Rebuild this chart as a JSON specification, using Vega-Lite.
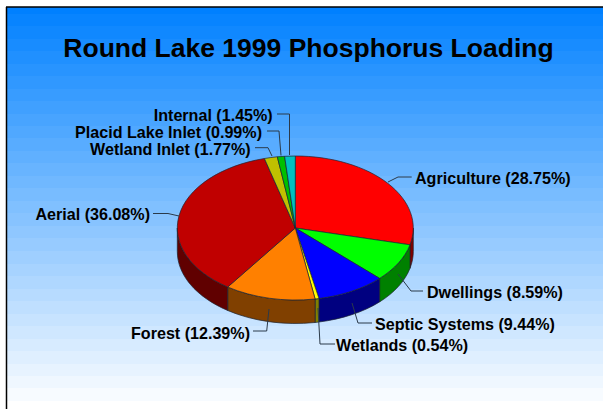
{"$schema":"https://vega.github.io/schema/vega-lite/v6.json","width":603,"height":409,"padding":0,"autosize":"none","background":"white",
"title":{"text":"Round Lake 1999 Phosphorus Loading","frame":"group","anchor":"middle","dx":7,"offset":-83,"baseline":"alphabetic","font":"Liberation Sans","fontWeight":"bold","fontSize":26.5,"color":"#000000"},
"config":{"view":{"stroke":null}},
"datasets":{"slices":[{"slice":"Agriculture","value":28.75},{"slice":"Dwellings","value":8.59},{"slice":"Septic Systems","value":9.44},{"slice":"Wetlands","value":0.54},{"slice":"Forest","value":12.39},{"slice":"Aerial","value":36.08},{"slice":"Wetland Inlet","value":1.77},{"slice":"Placid Lake Inlet","value":0.99},{"slice":"Internal","value":1.45}],
"labels":[{"label":"Agriculture (28.75%)","side":"left","lx":415,"ly":179},{"label":"Dwellings (8.59%)","side":"left","lx":427,"ly":292.7},{"label":"Septic Systems (9.44%)","side":"left","lx":375,"ly":324.5},{"label":"Wetlands (0.54%)","side":"left","lx":336,"ly":346},{"label":"Forest (12.39%)","side":"right","lx":250,"ly":334},{"label":"Aerial (36.08%)","side":"right","lx":150,"ly":215},{"label":"Wetland Inlet (1.77%)","side":"right","lx":250.7,"ly":150},{"label":"Placid Lake Inlet (0.99%)","side":"right","lx":262,"ly":132.7},{"label":"Internal (1.45%)","side":"right","lx":272.7,"ly":115.5}],
"leaders":[{"id":"a","i":0,"px":411.7,"py":177},{"id":"a","i":1,"px":398,"py":177},{"id":"a","i":2,"px":388,"py":182},
{"id":"b","i":0,"px":423,"py":291},{"id":"b","i":1,"px":411,"py":291},{"id":"b","i":2,"px":398,"py":274},
{"id":"c","i":0,"px":372,"py":323},{"id":"c","i":1,"px":358,"py":323},{"id":"c","i":2,"px":352,"py":303},
{"id":"d","i":0,"px":335,"py":344},{"id":"d","i":1,"px":320,"py":344},{"id":"d","i":2,"px":318,"py":308},
{"id":"e","i":0,"px":253,"py":331},{"id":"e","i":1,"px":266.7,"py":331},{"id":"e","i":2,"px":269,"py":309},
{"id":"f","i":0,"px":153,"py":213.5},{"id":"f","i":1,"px":168,"py":213.5},{"id":"f","i":2,"px":179,"py":216},
{"id":"g","i":0,"px":255,"py":147.7},{"id":"g","i":1,"px":268,"py":147.7},{"id":"g","i":2,"px":272,"py":156},
{"id":"h","i":0,"px":267,"py":131},{"id":"h","i":1,"px":279,"py":131},{"id":"h","i":2,"px":281,"py":155.5},
{"id":"k","i":0,"px":277,"py":114},{"id":"k","i":1,"px":289.5,"py":114},{"id":"k","i":2,"px":289.5,"py":155}]},
"layer":[
{"data":{"values":[{}]},"mark":{"type":"rect","fill":{"gradient":"linear","x1":0,"y1":0,"x2":0,"y2":1,"stops":[
{"offset":0,"color":"rgb(0,128,255)"},{"offset":0.01617,"color":"rgb(0,128,255)"},
{"offset":0.01617,"color":"rgb(8,132,255)"},{"offset":0.04726,"color":"rgb(8,132,255)"},
{"offset":0.04726,"color":"rgb(16,136,255)"},{"offset":0.07836,"color":"rgb(16,136,255)"},
{"offset":0.07836,"color":"rgb(24,140,255)"},{"offset":0.10945,"color":"rgb(24,140,255)"},
{"offset":0.10945,"color":"rgb(32,144,255)"},{"offset":0.14055,"color":"rgb(32,144,255)"},
{"offset":0.14055,"color":"rgb(40,148,255)"},{"offset":0.17164,"color":"rgb(40,148,255)"},
{"offset":0.17164,"color":"rgb(48,152,255)"},{"offset":0.20274,"color":"rgb(48,152,255)"},
{"offset":0.20274,"color":"rgb(56,156,255)"},{"offset":0.23383,"color":"rgb(56,156,255)"},
{"offset":0.23383,"color":"rgb(64,160,255)"},{"offset":0.26493,"color":"rgb(64,160,255)"},
{"offset":0.26493,"color":"rgb(72,164,255)"},{"offset":0.29602,"color":"rgb(72,164,255)"},
{"offset":0.29602,"color":"rgb(80,168,255)"},{"offset":0.32711,"color":"rgb(80,168,255)"},
{"offset":0.32711,"color":"rgb(88,172,255)"},{"offset":0.35821,"color":"rgb(88,172,255)"},
{"offset":0.35821,"color":"rgb(96,176,255)"},{"offset":0.3893,"color":"rgb(96,176,255)"},
{"offset":0.3893,"color":"rgb(104,180,255)"},{"offset":0.4204,"color":"rgb(104,180,255)"},
{"offset":0.4204,"color":"rgb(112,184,255)"},{"offset":0.45149,"color":"rgb(112,184,255)"},
{"offset":0.45149,"color":"rgb(120,188,255)"},{"offset":0.48259,"color":"rgb(120,188,255)"},
{"offset":0.48259,"color":"rgb(128,192,255)"},{"offset":0.51368,"color":"rgb(128,192,255)"},
{"offset":0.51368,"color":"rgb(135,195,255)"},{"offset":0.54478,"color":"rgb(135,195,255)"},
{"offset":0.54478,"color":"rgb(143,199,255)"},{"offset":0.57587,"color":"rgb(143,199,255)"},
{"offset":0.57587,"color":"rgb(151,203,255)"},{"offset":0.60697,"color":"rgb(151,203,255)"},
{"offset":0.60697,"color":"rgb(159,207,255)"},{"offset":0.63806,"color":"rgb(159,207,255)"},
{"offset":0.63806,"color":"rgb(167,211,255)"},{"offset":0.66915,"color":"rgb(167,211,255)"},
{"offset":0.66915,"color":"rgb(175,215,255)"},{"offset":0.70025,"color":"rgb(175,215,255)"},
{"offset":0.70025,"color":"rgb(183,219,255)"},{"offset":0.73134,"color":"rgb(183,219,255)"},
{"offset":0.73134,"color":"rgb(191,223,255)"},{"offset":0.76244,"color":"rgb(191,223,255)"},
{"offset":0.76244,"color":"rgb(199,227,255)"},{"offset":0.79353,"color":"rgb(199,227,255)"},
{"offset":0.79353,"color":"rgb(207,231,255)"},{"offset":0.82463,"color":"rgb(207,231,255)"},
{"offset":0.82463,"color":"rgb(215,235,255)"},{"offset":0.85572,"color":"rgb(215,235,255)"},
{"offset":0.85572,"color":"rgb(223,239,255)"},{"offset":0.88682,"color":"rgb(223,239,255)"},
{"offset":0.88682,"color":"rgb(231,243,255)"},{"offset":0.91791,"color":"rgb(231,243,255)"},
{"offset":0.91791,"color":"rgb(239,247,255)"},{"offset":0.949,"color":"rgb(239,247,255)"},
{"offset":0.949,"color":"rgb(247,251,255)"},{"offset":0.9801,"color":"rgb(247,251,255)"},
{"offset":0.9801,"color":"rgb(255,255,255)"},{"offset":1,"color":"rgb(255,255,255)"}]}},
"encoding":{"x":{"datum":6.5,"type":"quantitative","axis":null,"scale":{"domain":[0,603],"nice":false,"zero":false}},"x2":{"datum":603},"y":{"datum":7,"type":"quantitative","axis":null,"scale":{"domain":[409,0],"nice":false,"zero":false}},"y2":{"datum":409}}},
{"data":{"values":[{}]},"mark":{"type":"rule","color":"#000000","strokeWidth":1.5},"encoding":{"x":{"datum":6.5,"type":"quantitative","axis":null},"y":{"datum":7,"type":"quantitative","axis":null},"y2":{"datum":409}}},
{"data":{"values":[{}]},"mark":{"type":"rule","color":"#000000","strokeWidth":1.5},"encoding":{"x":{"datum":6,"type":"quantitative","axis":null},"x2":{"datum":603},"y":{"datum":7,"type":"quantitative","axis":null}}},
{"data":{"name":"slices"},"transform":[{"filter":"indexof(['Agriculture','Dwellings','Septic Systems','Wetlands','Forest','Aerial'],datum.slice)>=0"}],"mark":{"type":"point","filled":true,"size":4,"opacity":1,"stroke":"#1c2430","strokeWidth":0.7},
"encoding":{"x":{"datum":295.3,"type":"quantitative","axis":null},"y":{"datum":228,"type":"quantitative","axis":null},
"shape":{"field":"slice","type":"nominal","legend":null,"scale":{"domain":["Agriculture","Dwellings","Septic Systems","Wetlands","Forest","Aerial"],"range":["M118,0A118,72 0 0 1 114.7,16.8L114.7,40.3A118,72 0 0 0 118,23.5Z","M114.7,16.8A118,72 0 0 1 84.3,50.4L84.3,73.9A118,72 0 0 0 114.7,40.3Z","M84.3,50.4A118,72 0 0 1 23.7,70.5L23.7,94A118,72 0 0 0 84.3,73.9Z","M23.7,70.5A118,72 0 0 1 19.8,71L19.8,94.5A118,72 0 0 0 23.7,94Z","M19.8,71A118,72 0 0 1 -67.6,59L-67.6,82.5A118,72 0 0 0 19.8,94.5Z","M-67.6,59A118,72 0 0 1 -118,0L-118,23.5A118,72 0 0 0 -67.6,82.5Z"]}},
"color":{"field":"slice","type":"nominal","legend":null,"scale":{"domain":["Agriculture","Dwellings","Septic Systems","Wetlands","Forest","Aerial"],"range":["#800000","#008000","#000080","#808000","#804000","#600000"]}}}},
{"data":{"name":"slices"},"mark":{"type":"point","filled":true,"size":4,"opacity":1,"stroke":"#1c2430","strokeWidth":0.7},
"encoding":{"x":{"datum":295.3,"type":"quantitative","axis":null},"y":{"datum":228,"type":"quantitative","axis":null},"tooltip":{"field":"value","type":"quantitative"},
"shape":{"field":"slice","type":"nominal","legend":null,"scale":{"domain":["Agriculture","Dwellings","Septic Systems","Wetlands","Forest","Aerial","Wetland Inlet","Placid Lake Inlet","Internal"],"range":["M0,0L0,-72A118,72 0 0 1 114.7,16.8Z","M0,0L114.7,16.8A118,72 0 0 1 84.3,50.4Z","M0,0L84.3,50.4A118,72 0 0 1 23.7,70.5Z","M0,0L23.7,70.5A118,72 0 0 1 19.8,71Z","M0,0L19.8,71A118,72 0 0 1 -67.6,59Z","M0,0L-67.6,59A118,72 0 0 1 -30.9,-69.5Z","M0,0L-30.9,-69.5A118,72 0 0 1 -18,-71.2Z","M0,0L-18,-71.2A118,72 0 0 1 -10.7,-71.7Z","M0,0L-10.7,-71.7A118,72 0 0 1 0,-72Z"]}},
"color":{"field":"slice","type":"nominal","legend":null,"scale":{"domain":["Agriculture","Dwellings","Septic Systems","Wetlands","Forest","Aerial","Wetland Inlet","Placid Lake Inlet","Internal"],"range":["#ff0000","#00ff00","#0000ff","#ffff00","#ff8000","#c00000","#c0c000","#00c000","#00c0c0"]}}}},
{"data":{"name":"leaders"},"mark":{"type":"line","color":"#2b3a4a","strokeWidth":1},"encoding":{"x":{"field":"px","type":"quantitative","axis":null},"y":{"field":"py","type":"quantitative","axis":null},"detail":{"field":"id"},"order":{"field":"i"}}},
{"data":{"name":"labels"},"transform":[{"filter":"datum.side==='left'"}],"mark":{"type":"text","align":"left","baseline":"middle","font":"Liberation Sans","fontWeight":"bold","fontSize":16.1,"color":"#000000"},"encoding":{"x":{"field":"lx","type":"quantitative","axis":null},"y":{"field":"ly","type":"quantitative","axis":null},"text":{"field":"label"}}},
{"data":{"name":"labels"},"transform":[{"filter":"datum.side==='right'"}],"mark":{"type":"text","align":"right","baseline":"middle","font":"Liberation Sans","fontWeight":"bold","fontSize":16.1,"color":"#000000"},"encoding":{"x":{"field":"lx","type":"quantitative","axis":null},"y":{"field":"ly","type":"quantitative","axis":null},"text":{"field":"label"}}}
],
"resolve":{"scale":{"shape":"independent","color":"independent"}}}
